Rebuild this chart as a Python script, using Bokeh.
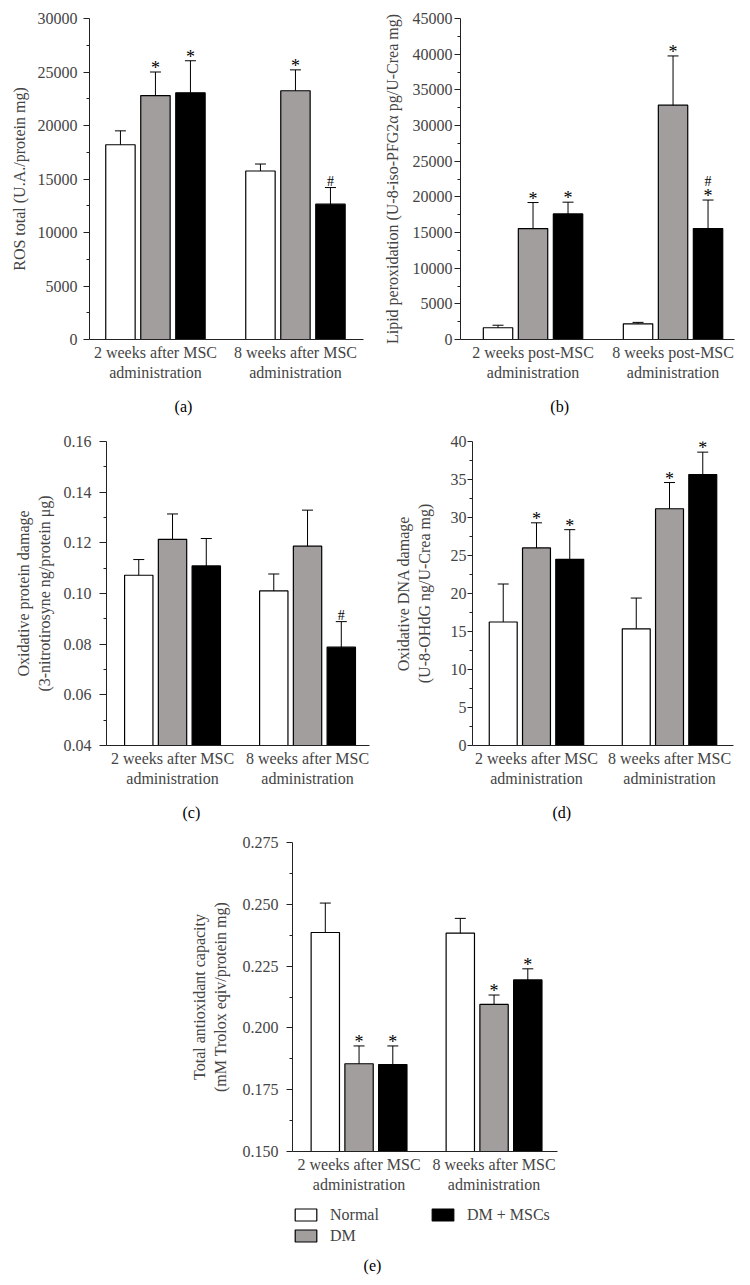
import numpy as np
from bokeh.plotting import figure
from bokeh.models import (ColumnDataSource, Whisker, TeeHead, FixedTicker,
                          PrintfTickFormatter, Legend, LegendItem, Spacer, Range1d,
                          LinearAxis, Label)
from bokeh.layouts import column, row
from bokeh.core.properties import value
from bokeh.embed import file_html
from bokeh.resources import INLINE

FONT = "Liberation Serif"
FS = "16px"

series = ["Normal", "DM", "DM + MSCs"]
fills = ["white", "#a19e9d", "black"]

groups_after = ["2 weeks after MSC\nadministration", "8 weeks after MSC\nadministration"]
groups_post = ["2 weeks post-MSC\nadministration", "8 weeks post-MSC\nadministration"]

# (a) ROS total
ros_normal = [18200, 15750]
ros_normal_err = [1300, 650]
ros_dm = [22800, 23250]
ros_dm_err = [2200, 1950]
ros_dmmsc = [23050, 12650]
ros_dmmsc_err = [3000, 1550]
ros_sig = [["", ""], ["*", "*"], ["*", "#"]]

# (b) Lipid peroxidation
lip_normal = [1650, 2200]
lip_normal_err = [350, 200]
lip_dm = [15550, 32850]
lip_dm_err = [3650, 6900]
lip_dmmsc = [17600, 15550]
lip_dmmsc_err = [1650, 4000]
lip_sig = [["", ""], ["*", "*"], ["*", "*#"]]

# (c) Oxidative protein damage
prot_normal = [0.1072, 0.1010]
prot_normal_err = [0.0062, 0.0067]
prot_dm = [0.1214, 0.1187]
prot_dm_err = [0.0100, 0.0142]
prot_dmmsc = [0.1109, 0.0788]
prot_dmmsc_err = [0.0108, 0.0101]
prot_sig = [["", ""], ["", ""], ["", "#"]]

# (d) Oxidative DNA damage
dna_normal = [16.25, 15.35]
dna_normal_err = [5.0, 4.05]
dna_dm = [26.0, 31.15]
dna_dm_err = [3.3, 3.45]
dna_dmmsc = [24.5, 35.65]
dna_dmmsc_err = [3.9, 2.95]
dna_sig = [["", ""], ["*", "*"], ["*", "*"]]

# (e) Total antioxidant capacity
tac_normal = [0.2386, 0.2383]
tac_normal_err = [0.0119, 0.0060]
tac_dm = [0.1855, 0.2095]
tac_dm_err = [0.0072, 0.0038]
tac_dmmsc = [0.1852, 0.2194]
tac_dmmsc_err = [0.0075, 0.0045]
tac_sig = [["", ""], ["*", "*"], ["*", "*"]]


def panel(groups, means, errs, sigs, ylim, ystep, fmt, ylabel, xlim,
          W, H, bl, br, bt, bb, tick_out, lab_standoff, axlab_standoff):
    p = figure(width=W, height=H, x_range=Range1d(*xlim), y_range=Range1d(*ylim),
               output_backend="svg", toolbar_location=None,
               min_border_left=bl, min_border_right=br,
               min_border_top=bt, min_border_bottom=bb)
    p.outline_line_color = None
    p.xgrid.visible = False
    p.ygrid.visible = False
    p.background_fill_color = "white"
    p.border_fill_color = "white"

    offsets = [-0.25, 0.0, 0.25]
    srcs = []
    sx, sy = [], []
    hx, hy, hoff = [], [], []
    for k in range(3):
        xs = [i + offsets[k] for i in range(len(groups))]
        up = [m + e for m, e in zip(means[k], errs[k])]
        lo = [m - e for m, e in zip(means[k], errs[k])]
        src = ColumnDataSource(dict(x=xs, top=means[k], upper=up, lower=lo))
        srcs.append(src)
        p.vbar(x="x", top="top", bottom=ylim[0], width=0.21, source=src,
               fill_color=fills[k], line_color="black", line_width=1.2)
        w = Whisker(source=src, base="x", upper="upper", lower="lower",
                    line_color="black", line_width=1,
                    upper_head=TeeHead(size=11, line_color="black", line_width=1),
                    lower_head=TeeHead(size=11, line_color="black", line_width=1))
        p.add_layout(w)
        for i, s in enumerate(sigs[k]):
            if "*" in s:
                sx.append(xs[i]); sy.append(up[i])
            if "#" in s:
                hx.append(xs[i]); hy.append(up[i])
                hoff.append(-19 if "*" in s else -6)
    if sx:
        p.text(x="x", y="y", text="t",
               source=ColumnDataSource(dict(x=sx, y=sy, t=["*"] * len(sx))),
               text_align="center", text_baseline="alphabetic",
               text_font=value(FONT), text_font_size="18px", y_offset=-4,
               text_color="black")
    if hx:
        p.text(x="x", y="y", text="t",
               source=ColumnDataSource(dict(x=hx, y=hy, t=["#"] * len(hx), off=hoff)),
               text_align="center", text_baseline="alphabetic",
               text_font=value(FONT), text_font_size="14px", y_offset="off",
               text_color="black")

    yax = p.yaxis[0]
    ticks = [float(v) for v in np.round(np.arange(ylim[0], ylim[1] + ystep / 2, ystep), 6)]
    minor = [float(v) for v in np.round(np.arange(ylim[0] + ystep / 2, ylim[1], ystep), 6)]
    yax.ticker = FixedTicker(ticks=ticks, minor_ticks=minor)
    yax.formatter = PrintfTickFormatter(format=fmt)
    yax.major_tick_out = tick_out
    yax.major_tick_in = 0
    yax.minor_tick_out = 3
    yax.minor_tick_in = 0
    yax.major_label_standoff = lab_standoff
    yax.axis_label = ylabel
    yax.axis_label_standoff = axlab_standoff
    yax.axis_label_text_font = FONT
    yax.axis_label_text_font_size = FS
    yax.axis_label_text_font_style = "normal"
    yax.major_label_text_font = FONT
    yax.major_label_text_font_size = FS
    yax.axis_line_color = "#222222"
    yax.major_tick_line_color = "#222222"
    yax.minor_tick_line_color = "#222222"

    xax = p.xaxis[0]
    xax.ticker = FixedTicker(ticks=[0, 1])
    xax.major_label_overrides = {0: groups[0], 1: groups[1]}
    xax.major_tick_out = 0
    xax.major_tick_in = 0
    xax.minor_tick_out = 0
    xax.minor_tick_in = 0
    xax.major_tick_line_color = None
    xax.minor_tick_line_color = None
    xax.major_label_standoff = 4
    xax.major_label_text_font = FONT
    xax.major_label_text_font_size = FS
    xax.axis_line_color = "#222222"
    return p, srcs


def add_letter(p, letter, pos, standoff=14):
    ax = LinearAxis(ticker=FixedTicker(ticks=[pos]),
                    major_label_overrides={pos: letter},
                    axis_line_color=None, major_tick_line_color=None,
                    minor_tick_line_color=None, major_tick_out=0, major_tick_in=0,
                    minor_tick_out=0, minor_tick_in=0,
                    major_label_standoff=standoff,
                    major_label_text_font=FONT, major_label_text_font_size=FS,
                    major_label_text_color="black")
    p.add_layout(ax, "below")


pa, _ = panel(groups_after, [ros_normal, ros_dm, ros_dmmsc],
              [ros_normal_err, ros_dm_err, ros_dmmsc_err], ros_sig,
              (0, 30000), 5000, "%d", "ROS total (U.A./protein mg)",
              (-0.471, 1.486), 375, 420, 89, 12, 18, 80, 6, 6, 7)
add_letter(pa, "(a)", 0.2)

pb, _ = panel(groups_post, [lip_normal, lip_dm, lip_dmmsc],
              [lip_normal_err, lip_dm_err, lip_dmmsc_err], lip_sig,
              (0, 45000), 5000, "%d", "Lipid peroxidation (U-8-iso-PFG2α pg/U-Crea mg)",
              (-0.518, 1.439), 367, 420, 85, 8, 18, 81, 6, 2, 9)
add_letter(pb, "(b)", 0.19)

pc, _ = panel(groups_after, [prot_normal, prot_dm, prot_dmmsc],
              [prot_normal_err, prot_dm_err, prot_dmmsc_err], prot_sig,
              (0.04, 0.16), 0.02, "%.2f",
              "Oxidative protein damage\n(3-nitrotirosyne ng/protein μg)",
              (-0.489, 1.459), 375, 410, 106, 6, 16, 85, 7, 8, 8)
add_letter(pc, "(c)", 0.14)

pd_, _ = panel(groups_after, [dna_normal, dna_dm, dna_dmmsc],
               [dna_normal_err, dna_dm_err, dna_dmmsc_err], dna_sig,
               (0, 40), 5, "%d",
               "Oxidative DNA damage\n(U-8-OHdG ng/U-Crea mg)",
               (-0.481, 1.481), 367, 410, 97, 9, 21, 85, 5, 1, 15)
add_letter(pd_, "(d)", 0.19)

pe, srcs_e = panel(groups_after, [tac_normal, tac_dm, tac_dmmsc],
                   [tac_normal_err, tac_dm_err, tac_dmmsc_err], tac_sig,
                   (0.150, 0.275), 0.025, "%.3f",
                   "Total antioxidant capacity\n(mM Trolox eqiv/protein mg)",
                   (-0.493, 1.470), 584, 371, 134, 185, 12, 50, 6, 8, 11)

# legend panel beneath (e); its frame is aligned with the frame of (e)
pleg = figure(width=584, height=76, x_range=Range1d(0, 1), y_range=Range1d(0, 1),
              x_axis_location=None, y_axis_location=None,
              output_backend="svg", toolbar_location=None,
              min_border_left=134, min_border_right=185, min_border_top=0, min_border_bottom=0)
pleg.outline_line_color = None
pleg.xgrid.visible = False
pleg.ygrid.visible = False
leg_rends = []
for k in range(3):
    r = pleg.vbar(x="x", top="top", width=0.21, source=srcs_e[k], fill_color=fills[k],
                  line_color="black", line_width=1.2)
    r.visible = False
    leg_rends.append(r)


def mk_legend(items, loc):
    return Legend(items=items, location=loc, orientation="vertical",
                  border_line_color=None, background_fill_alpha=0,
                  inactive_fill_alpha=0,
                  padding=0, margin=0, spacing=1,
                  glyph_width=27, glyph_height=15, label_standoff=11,
                  label_height=20,
                  label_text_font=FONT, label_text_font_size=FS)


pleg.add_layout(mk_legend([LegendItem(label=series[0], renderers=[leg_rends[0]]),
                           LegendItem(label=series[1], renderers=[leg_rends[1]])],
                          (0, 31.5)))
pleg.add_layout(mk_legend([LegendItem(label=series[2], renderers=[leg_rends[2]])],
                          (137, 52.5)))
pleg.add_layout(Label(x=80, y=12, x_units="screen", y_units="screen", text="(e)",
                      text_align="center", text_baseline="middle",
                      text_font=FONT, text_font_size=FS, text_color="black"))

layout = column(row(pa, pb), row(pc, pd_),
                row(Spacer(width=158, height=447), column(pe, pleg)))

open("out.html", "w").write(file_html(layout, INLINE))
